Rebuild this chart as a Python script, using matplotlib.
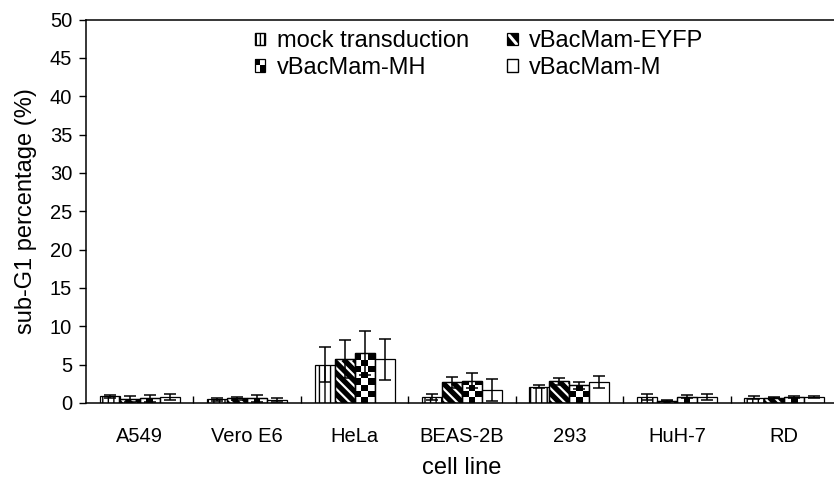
import numpy as np
import matplotlib.pyplot as plt
from matplotlib.patches import Patch, Rectangle
from matplotlib.lines import Line2D
from matplotlib.transforms import IdentityTransform
from matplotlib.legend_handler import HandlerBase

plt.rcParams['font.family'] = ['Liberation Sans', 'DejaVu Sans']

cells = ['A549', 'Vero E6', 'HeLa', 'BEAS-2B', '293', 'HuH-7', 'RD']
series = ['mock transduction', 'vBacMam-EYFP', 'vBacMam-MH', 'vBacMam-M']

mock = [0.9, 0.5, 5.0, 0.75, 2.1, 0.8, 0.7]
mock_err = [0.2, 0.2, 2.3, 0.4, 0.2, 0.4, 0.2]
eyfp = [0.5, 0.6, 5.7, 2.7, 2.85, 0.3, 0.7]
eyfp_err = [0.4, 0.2, 2.5, 0.7, 0.45, 0.1, 0.1]
mh = [0.6, 0.6, 6.5, 2.9, 2.3, 0.8, 0.8]
mh_err = [0.5, 0.5, 2.9, 1.0, 0.5, 0.2, 0.1]
m = [0.8, 0.4, 5.7, 1.7, 2.7, 0.8, 0.8]
m_err = [0.4, 0.3, 2.7, 1.4, 0.8, 0.4, 0.1]

values = [mock, eyfp, mh, m]
errors = [mock_err, eyfp_err, mh_err, m_err]

fig = plt.figure(figsize=(8.34, 4.79), dpi=100)
ax = fig.add_axes([86 / 834, 1 - 403 / 479, 752 / 834, (403 - 19.5) / 479])
ax.set_xlim(-0.5, len(cells) - 0.5)
ax.set_ylim(0, 50)

x = np.arange(len(cells))
w = 0.186
offsets = (np.arange(4) - 1.5) * w


def checker(ax, bar, ncols=3, cell_h=0.8):
    # black squares of a checkerboard, clipped to the bar
    x0, bw, bh = bar.get_x(), bar.get_width(), bar.get_height()
    cw = bw / ncols
    nrows = int(np.ceil(bh / cell_h))
    for r in range(nrows):
        for c in range(ncols):
            if (r + c) % 2 == 1:
                sq = Rectangle((x0 + c * cw, r * cell_h), cw, cell_h,
                               facecolor='black', edgecolor='none', zorder=2.5)
                ax.add_patch(sq)
                sq.set_clip_path(bar)


def stripes(ax, bar, period=10.5):
    # thick "\" stripes drawn in pixel space, clipped to the bar
    (x0, y0), (x1, y1) = ax.transData.transform(
        [(bar.get_x(), 0), (bar.get_x() + bar.get_width(), bar.get_height())])
    span = (x1 - x0) + (y1 - y0)
    for c in np.arange(0, span + period, period):
        s = x0 + y0 + c
        ln = Line2D([s - y1, s - y0 + 2], [y1, y0 - 2], transform=IdentityTransform(),
                    color='black', linewidth=period * 0.36, solid_capstyle='butt', zorder=2.5)
        ax.add_line(ln)
        ln.set_clip_path(bar)


for i in range(4):
    bars = ax.bar(x + offsets[i], values[i], w, yerr=errors[i], color='white',
                  edgecolor='black', linewidth=0.9, zorder=2,
                  error_kw=dict(ecolor='black', elinewidth=1.1, capsize=4.5,
                                capthick=1.1, zorder=4))
    for b in bars:
        if i == 0:
            b.set_hatch('|||')
        elif i == 1:
            stripes(ax, b)
        elif i == 2:
            checker(ax, b)
    if i in (1, 2):
        # outline on top of the fill
        for b in bars:
            ax.add_patch(Rectangle((b.get_x(), 0), b.get_width(), b.get_height(),
                                   fill=False, edgecolor='black', linewidth=0.9, zorder=3))

ax.set_yticks(np.arange(0, 51, 5))
ax.set_xticks(x)
ax.set_xticklabels(cells)
ax.tick_params(axis='x', length=0, labelsize=14.5, pad=17)
ax.set_xticks(np.arange(0.5, len(cells) - 0.5), minor=True)
ax.tick_params(axis='x', which='minor', direction='in', length=5, width=1)
ax.tick_params(axis='y', direction='out', length=5, width=1, labelsize=14.5, pad=5)
ax.spines['right'].set_visible(False)
for s in ['left', 'bottom', 'top']:
    ax.spines[s].set_linewidth(1.1)

ax.set_xlabel('cell line', fontsize=17, labelpad=8)
ax.set_ylabel('sub-G1 percentage (%)', fontsize=17, labelpad=9)


class CheckerHandler(HandlerBase):
    def create_artists(self, legend, orig_handle, xdescent, ydescent,
                       width, height, fontsize, trans):
        x0, y0 = -xdescent, -ydescent
        hw, hh = width / 2, height / 2
        return [Rectangle((x0, y0 + hh), hw, hh, facecolor='black', edgecolor='none', transform=trans),
                Rectangle((x0 + hw, y0), hw, hh, facecolor='black', edgecolor='none', transform=trans),
                Rectangle((x0, y0), width, height, fill=False, edgecolor='black',
                          linewidth=0.9, transform=trans)]


class StripeHandler(HandlerBase):
    def create_artists(self, legend, orig_handle, xdescent, ydescent,
                       width, height, fontsize, trans):
        x0, y0 = -xdescent, -ydescent
        return [Rectangle((x0, y0), width, height, facecolor='black', edgecolor='none', transform=trans),
                Line2D([x0 + width * 0.1, x0 + width * 0.9], [y0 + height * 0.9, y0 + height * 0.1],
                       color='white', linewidth=2.2, transform=trans),
                Rectangle((x0, y0), width, height, fill=False, edgecolor='black',
                          linewidth=0.9, transform=trans)]


h_mock = Patch(facecolor='white', edgecolor='black', hatch='||||')
h_eyfp = Patch(facecolor='white', edgecolor='black')
h_mh = Patch(facecolor='white', edgecolor='black')
h_m = Patch(facecolor='white', edgecolor='black')

ax.legend([h_mock, h_mh, h_eyfp, h_m], [series[0], series[2], series[1], series[3]],
          ncol=2, frameon=False, loc='upper left', bbox_to_anchor=(0.196, 1.027),
          fontsize=17, handlelength=0.45, handleheight=0.45, handletextpad=0.5,
          columnspacing=1.6, labelspacing=0.18,
          handler_map={h_mh: CheckerHandler(), h_eyfp: StripeHandler()})

fig.savefig('out.png', dpi=100)
